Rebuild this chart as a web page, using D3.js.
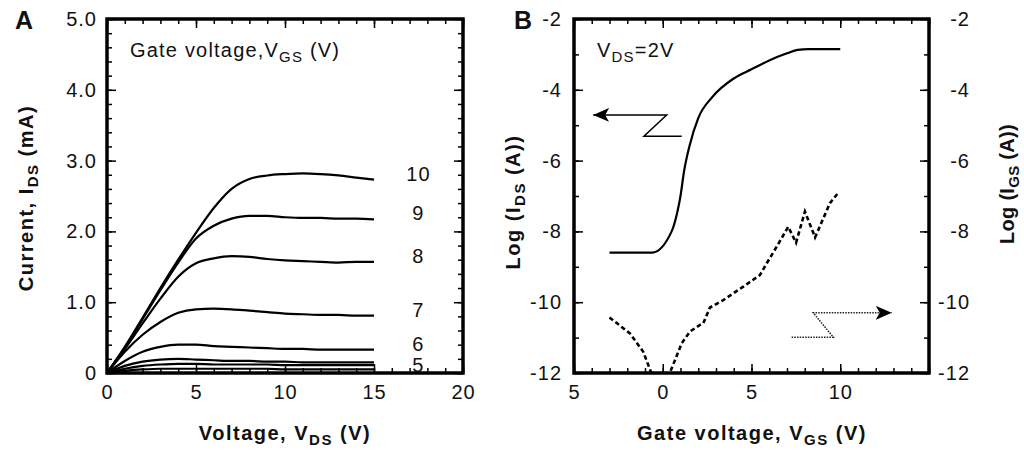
<!DOCTYPE html>
<html>
<head>
<meta charset="utf-8">
<script src="https://cdn.jsdelivr.net/npm/d3@7"></script>
<style>
  body { margin: 0; background: #fff; }
  text { font-family: "Liberation Sans", Arial, Helvetica, sans-serif; fill: #111; }
  .tick text { font-size: 20px; letter-spacing: 1px; }
  .tick line { stroke: #000; stroke-width: 1.5px; }
  .title { font-size: 20px; font-weight: bold; letter-spacing: 1.5px; }
  .note { font-size: 20px; letter-spacing: 1.2px; }
  .panel { font-size: 25px; font-weight: bold; }
</style>
</head>
<body>
<svg id="chart" width="1024" height="450"></svg>
<script>
// ---- Panel A: drain current vs drain voltage, one curve per gate voltage ----
const vds = [0, 1, 2, 3, 4, 5, 6, 7, 8, 9, 10, 11, 12, 13, 14, 15];
const ids10 = [0, 0.37, 0.78, 1.2, 1.6, 1.98, 2.33, 2.6, 2.74, 2.79, 2.81, 2.82, 2.81, 2.79, 2.76, 2.73];
const ids9  = [0, 0.36, 0.76, 1.17, 1.56, 1.9, 2.08, 2.18, 2.22, 2.22, 2.2, 2.19, 2.19, 2.18, 2.18, 2.17];
const ids8  = [0, 0.34, 0.7, 1.05, 1.36, 1.55, 1.62, 1.65, 1.64, 1.61, 1.59, 1.58, 1.57, 1.56, 1.57, 1.57];
const ids7  = [0, 0.3, 0.54, 0.72, 0.85, 0.9, 0.91, 0.9, 0.88, 0.86, 0.84, 0.83, 0.82, 0.82, 0.81, 0.81];
const ids6  = [0, 0.17, 0.3, 0.37, 0.4, 0.4, 0.38, 0.37, 0.36, 0.35, 0.34, 0.34, 0.33, 0.33, 0.33, 0.33];
const ids5  = [0, 0.1, 0.16, 0.19, 0.2, 0.19, 0.18, 0.17, 0.17, 0.16, 0.16, 0.15, 0.15, 0.15, 0.15, 0.15];
const ids4  = [0, 0.06, 0.1, 0.12, 0.13, 0.13, 0.12, 0.12, 0.12, 0.12, 0.11, 0.11, 0.11, 0.11, 0.11, 0.11];
const ids3  = [0, 0.03, 0.05, 0.06, 0.06, 0.06, 0.06, 0.06, 0.06, 0.06, 0.05, 0.05, 0.05, 0.05, 0.05, 0.05];
const gateLabels = ["10", "9", "8", "7", "6", "5"];

const xTicksA = [0, 5, 10, 15, 20];
const xLabelsA = ["0", "5", "10", "15", "20"];
const yTicksA = [0, 1, 2, 3, 4, 5];
const yLabelsA = ["0", "1.0", "2.0", "3.0", "4.0", "5.0"];

// ---- Panel B: transfer curve (log drain current) and gate leakage ----
const vgsDrain = [-3, -0.6, 0.5, 0.8, 1.0, 1.2, 1.5, 2.0, 2.8, 4.0, 5.0, 6.0, 7.0, 7.6, 8.2, 10.0];
const logIds   = [-8.6, -8.6, -8.0, -7.5, -7.0, -6.3, -5.6, -4.8, -4.2, -3.68, -3.42, -3.17, -2.97, -2.87, -2.85, -2.85];
const vgsGate  = [-3.0, -1.85, -1.1, -0.72, -0.1, 0.5, 1.07, 1.53, 2.1, 2.28, 2.66, 3.41, 4.54, 5.48, 5.86, 6.42, 7.07, 7.51, 8.01, 8.58, 9.42, 9.9];
const logIgs   = [-10.43, -10.88, -11.4, -11.9, -12.6, -11.87, -11.16, -10.83, -10.64, -10.6, -10.15, -9.94, -9.56, -9.23, -8.9, -8.43, -7.87, -8.32, -7.44, -8.17, -7.2, -6.9];

const xTicksB = [-5, 0, 5, 10, 15];
const xLabelsB = ["5", "0", "5", "10", ""];
const yTicksB = [-12, -10, -8, -6, -4, -2];
const yLabelsB = ["-12", "-10", "-8", "-6", "-4", "-2"];

const svg = d3.select("#chart");
svg.append("rect").attr("width", 1024).attr("height", 450).attr("fill", "#fff");

const xA = d3.scaleLinear().domain([0, 20]).range([107, 463]);
const yA = d3.scaleLinear().domain([0, 5]).range([373, 19]);
const xB = d3.scaleLinear().domain([-5, 15]).range([574, 929]);
const yB = d3.scaleLinear().domain([-12, -2]).range([373, 19]);

// Boxed frame with inward major/minor ticks on all four sides
function boxAxes(x, y, cfg) {
  const [xl, xr] = x.range(), [yb, yt] = y.range();
  const xMinor = d3.range(x.domain()[0], x.domain()[1] + 1e-9, cfg.xStep);
  const yMinor = d3.range(y.domain()[0], y.domain()[1] + 1e-9, cfg.yStep);
  const fmt = (vals, labels) => d => { const i = vals.indexOf(d); return i < 0 ? "" : labels[i]; };
  const add = (axis, tx, ty) => {
    const a = svg.append("g").attr("transform", `translate(${tx},${ty})`).call(axis);
    a.select(".domain").remove();
    a.attr("font-size", null).attr("font-family", null);
    return a;
  };
  add(d3.axisBottom(x).tickValues(xMinor).tickSize(-5).tickFormat(""), 0, yb);
  add(d3.axisBottom(x).tickValues(cfg.xMajor).tickSize(-9).tickPadding(12)
        .tickFormat(fmt(cfg.xMajor, cfg.xLabels)), 0, yb);
  add(d3.axisTop(x).tickValues(xMinor).tickSize(-5).tickFormat(""), 0, yt);
  add(d3.axisTop(x).tickValues(cfg.xMajor).tickSize(-9).tickFormat(""), 0, yt);
  add(d3.axisLeft(y).tickValues(yMinor).tickSize(-5).tickFormat(""), xl, 0);
  add(d3.axisLeft(y).tickValues(cfg.yMajor).tickSize(-9).tickPadding(cfg.leftPad)
        .tickFormat(fmt(cfg.yMajor, cfg.yLabels)), xl, 0);
  add(d3.axisRight(y).tickValues(yMinor).tickSize(-5).tickFormat(""), xr, 0);
  const r = add(d3.axisRight(y).tickValues(cfg.yMajor).tickSize(-9)
        .tickFormat(cfg.rightLabels ? fmt(cfg.yMajor, cfg.rightLabels) : ""), xr, 0);
  if (cfg.rightLabels) r.selectAll("text").attr("text-anchor", "end").attr("x", cfg.rightEdge);
  svg.append("rect").attr("x", xl).attr("y", yt).attr("width", xr - xl).attr("height", yb - yt)
    .attr("fill", "none").attr("stroke", "#000").attr("stroke-width", 3.5);
}

// Text with a lowered subscript part
function subText(x, y, parts, cls, rotate, anchor) {
  const t = svg.append("text").attr("class", cls)
    .attr("transform", `translate(${x},${y})` + (rotate ? ` rotate(${rotate})` : ""))
    .attr("text-anchor", anchor || "start");
  parts.forEach(p => {
    const s = t.append("tspan").text(p[0]);
    if (p[1] === "sub") s.attr("dy", 5).attr("font-size", "0.75em");
    if (p[1] === "back") s.attr("dy", -5);
  });
  return t;
}

// ---------- Panel A ----------
const seriesA = [ids10, ids9, ids8, ids7, ids6, ids5, ids4, ids3];
const lineA = d3.line().x((d, i) => xA(vds[i])).y(d => yA(d)).curve(d3.curveMonotoneX);
svg.append("g").selectAll("path").data(seriesA).join("path")
  .attr("d", lineA).attr("fill", "none").attr("stroke", "#000").attr("stroke-width", 2.2);

svg.append("g").selectAll("text").data(gateLabels).join("text")
  .attr("class", "note").attr("text-anchor", "middle")
  .attr("x", xA(17.5))
  .attr("y", (d, i) => yA(seriesA[i][seriesA[i].length - 1]) + (d === "5" ? 10 : 1))
  .text(d => d);

boxAxes(xA, yA, { xMajor: xTicksA, xLabels: xLabelsA, xStep: 1,
                  yMajor: yTicksA, yLabels: yLabelsA, yStep: 0.2, leftPad: 10 });

subText(130, 57, [["Gate voltage,V"], ["GS", "sub"], [" (V)", "back"]], "note");
subText(285, 440, [["Voltage, V"], ["DS", "sub"], [" (V)", "back"]], "title", 0, "middle");
subText(33, 198, [["Current, I"], ["DS", "sub"], [" (mA)", "back"]], "title", -90, "middle");
svg.append("text").attr("class", "panel").attr("x", 15).attr("y", 29).text("A");

// ---------- Panel B ----------
svg.append("clipPath").attr("id", "clipB").append("rect")
  .attr("x", xB(-5)).attr("y", yB(-2)).attr("width", xB(15) - xB(-5)).attr("height", yB(-12) - yB(-2));

const lineDrain = d3.line().x((d, i) => xB(vgsDrain[i])).y(d => yB(d)).curve(d3.curveMonotoneX);
svg.append("path").datum(logIds).attr("d", lineDrain).attr("clip-path", "url(#clipB)")
  .attr("fill", "none").attr("stroke", "#000").attr("stroke-width", 2.2);

const lineGate = d3.line().x((d, i) => xB(vgsGate[i])).y(d => yB(d));
svg.append("path").datum(logIgs).attr("d", lineGate).attr("clip-path", "url(#clipB)")
  .attr("fill", "none").attr("stroke", "#000").attr("stroke-width", 2.6)
  .attr("stroke-dasharray", "4.5,3");

// Arrowheads for the axis pointers
const defs = svg.append("defs");
defs.append("marker").attr("id", "head").attr("markerUnits", "userSpaceOnUse")
  .attr("markerWidth", 20).attr("markerHeight", 16).attr("refX", 16).attr("refY", 7)
  .attr("orient", "auto")
  .append("path").attr("d", "M16,7 L0,0 L4,7 L0,14 Z").attr("fill", "#000");

const pointer = d3.line().x(d => xB(d[0])).y(d => yB(d[1]));
svg.append("path")
  .attr("d", pointer([[1.07, -5.31], [-1.06, -5.31], [0.22, -4.71], [-3.92, -4.71]]))
  .attr("fill", "none").attr("stroke", "#000").attr("stroke-width", 1.5)
  .attr("marker-end", "url(#head)");
svg.append("path")
  .attr("d", pointer([[7.26, -10.99], [9.61, -10.99], [8.48, -10.3], [12.9, -10.3]]))
  .attr("fill", "none").attr("stroke", "#222").attr("stroke-width", 1.5)
  .attr("stroke-dasharray", "1.5,1.2")
  .attr("marker-end", "url(#head)");

boxAxes(xB, yB, { xMajor: xTicksB, xLabels: xLabelsB, xStep: 1,
                  yMajor: yTicksB, yLabels: yLabelsB, yStep: 1, leftPad: 12,
                  rightLabels: yLabelsB, rightEdge: 41 });

subText(597, 57, [["V"], ["DS", "sub"], ["=2V", "back"]], "note");
subText(752, 440, [["Gate voltage, V"], ["GS", "sub"], [" (V)", "back"]], "title", 0, "middle");
subText(520, 202, [["Log (I"], ["DS", "sub"], [" (A))", "back"]], "title", -90, "middle");
subText(1014, 184, [["Log (I"], ["GS", "sub"], [" (A))", "back"]], "title", -90, "middle")
  .style("letter-spacing", "0.3px");
svg.append("text").attr("class", "panel").attr("x", 514).attr("y", 29).text("B");
</script>
</body>
</html>
